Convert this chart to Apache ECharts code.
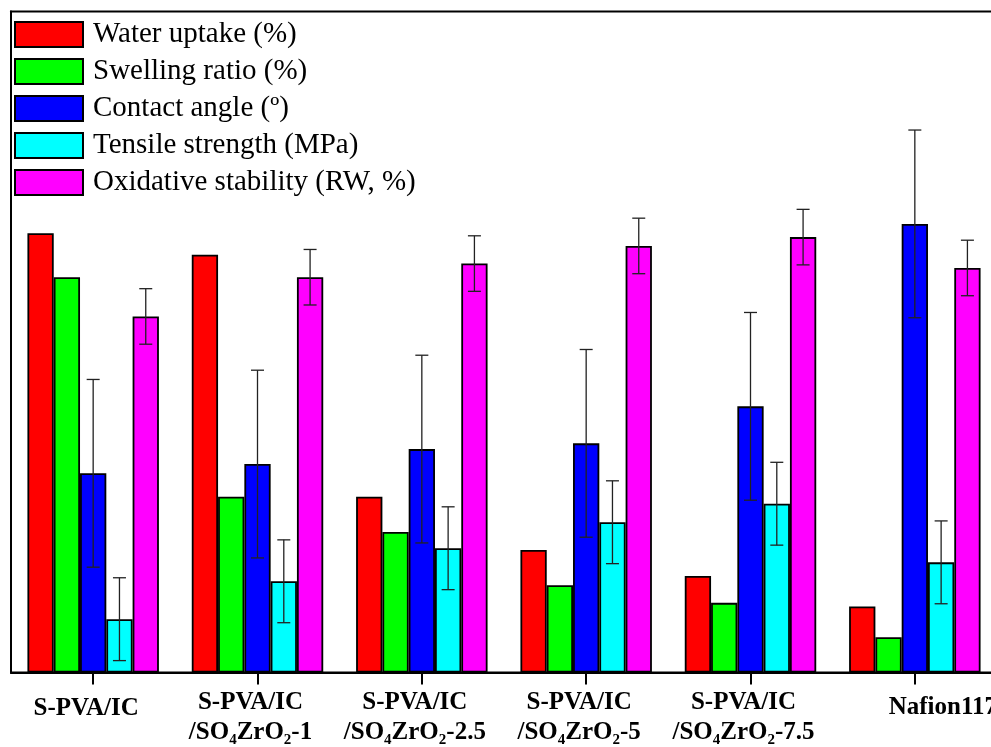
<!DOCTYPE html>
<html>
<head>
<meta charset="utf-8">
<script src="https://cdn.jsdelivr.net/npm/echarts@6/dist/echarts.min.js"></script>
<style>
html,body{margin:0;padding:0;background:#fff;}
#chart{width:991px;height:747px;}
</style>
</head>
<body>
<div id="chart"></div>
<script>
// Categories (rich-text markup for subscripts)
const categories = [
  '{one|S-PVA/IC}',
  'S-PVA/IC\n/SO{s|4}ZrO{s|2}-1',
  'S-PVA/IC\n/SO{s|4}ZrO{s|2}-2.5',
  'S-PVA/IC\n/SO{s|4}ZrO{s|2}-5',
  'S-PVA/IC\n/SO{s|4}ZrO{s|2}-7.5',
  '{naf|Nafion117}'
];
const seriesNames = ['Water uptake (%)', 'Swelling ratio (%)', 'Contact angle (\u00BA)', 'Tensile strength (MPa)', 'Oxidative stability (RW, %)'];
const colors = ['#FF0000', '#00FF00', '#0000FF', '#00FFFF', '#FF00FF'];

const waterUptake = [99.7, 94.8, 39.9, 27.8, 21.9, 15.0];
const swellingRatio = [89.7, 39.9, 31.9, 19.8, 15.8, 8.0];
const contactAngle = [45.2, 47.3, 50.7, 52.0, 60.4, 101.8];
const tensileStrength = [12.1, 20.7, 28.2, 34.1, 38.3, 25.0];
const oxidativeStability = [80.8, 89.7, 92.8, 96.8, 98.8, 91.8];

const contactAngleErr = [21.3, 21.3, 21.3, 21.3, 21.3, 21.3];
const tensileStrengthErr = [9.4, 9.4, 9.4, 9.4, 9.4, 9.4];
const oxidativeStabilityErr = [6.3, 6.3, 6.3, 6.3, 6.3, 6.3];

const allValues = [waterUptake, swellingRatio, contactAngle, tensileStrength, oxidativeStability];
const errorSets = [
  {idx: 2, vals: contactAngle, err: contactAngleErr},
  {idx: 3, vals: tensileStrength, err: tensileStrengthErr},
  {idx: 4, vals: oxidativeStability, err: oxidativeStabilityErr}
];

const FONT = "'Liberation Serif', 'Times New Roman', serif";

const chart = echarts.init(document.getElementById('chart'), null, {renderer: 'canvas'});

const barSeries = seriesNames.map((name, i) => ({
  name: name,
  type: 'bar',
  data: allValues[i],
  barGap: '0%',
  barCategoryGap: '20%',
  itemStyle: {color: colors[i], borderColor: '#000', borderWidth: 1.8},
  emphasis: {disabled: true},
  z: 2
}));

const errSeries = errorSets.map(es => ({
  name: 'err' + es.idx,
  type: 'custom',
  z: 5,
  silent: true,
  data: es.vals.map((v, i) => [i, v, es.err[i]]),
  renderItem: function (params, api) {
    const ci = api.value(0), v = api.value(1), e = api.value(2);
    const c = api.coord([ci, v]);
    const catW = api.size([1, 0])[0];
    const bw = catW * 0.8 / 5;
    const x = c[0] + (es.idx - 2) * bw;
    const yt = api.coord([ci, v + e])[1];
    const yb = api.coord([ci, v - e])[1];
    const hw = 6.5;
    const st = {stroke: '#222', lineWidth: 1.3};
    return {
      type: 'group',
      children: [
        {type: 'line', shape: {x1: x, y1: yt, x2: x, y2: yb}, style: st},
        {type: 'line', shape: {x1: x - hw, y1: yt, x2: x + hw, y2: yt}, style: st},
        {type: 'line', shape: {x1: x - hw, y1: yb, x2: x + hw, y2: yb}, style: st}
      ]
    };
  }
}));

chart.setOption({
  animation: false,
  backgroundColor: '#fff',
  grid: {left: 11, right: -6, top: 11.5, bottom: 74.5, show: true, borderColor: '#000', borderWidth: 2, backgroundColor: 'transparent', containLabel: false, outerBoundsMode: 'none'},
  legend: {
    data: seriesNames,
    orient: 'vertical',
    left: 9,
    top: 15,
    itemWidth: 68,
    itemHeight: 25,
    itemGap: 8,
    selectedMode: false,
    icon: 'rect',
    textStyle: {fontFamily: FONT, fontSize: 29, color: '#000', lineHeight: 25, padding: [0, 0, 0, 5]}
  },
  xAxis: {
    type: 'category',
    data: categories,
    axisLine: {show: true, lineStyle: {color: '#000', width: 2}},
    axisTick: {show: true, alignWithLabel: true, length: 12, lineStyle: {color: '#000', width: 2}},
    axisLabel: {
      interval: 0,
      margin: 15,
      hideOverlap: false,
      color: '#000',
      fontFamily: FONT,
      fontWeight: 'bold',
      fontSize: 25,
      lineHeight: 30,
      padding: [0, 14, 0, 0],
      rich: {
        s: {fontFamily: FONT, fontWeight: 'bold', fontSize: 15, verticalAlign: 'bottom', lineHeight: 10, color: '#000'},
        one: {fontFamily: FONT, fontWeight: 'bold', fontSize: 25, lineHeight: 42, color: '#000'},
        naf: {fontFamily: FONT, fontWeight: 'bold', fontSize: 25, lineHeight: 40, padding: [0, 0, 0, 70], color: '#000'}
      }
    },
    splitLine: {show: false}
  },
  yAxis: {
    type: 'value',
    min: 0,
    max: 150,
    axisLine: {show: true, lineStyle: {color: '#000', width: 2}},
    axisTick: {show: false},
    axisLabel: {show: false},
    splitLine: {show: false}
  },
  series: barSeries.concat(errSeries)
});
</script>
</body>
</html>
